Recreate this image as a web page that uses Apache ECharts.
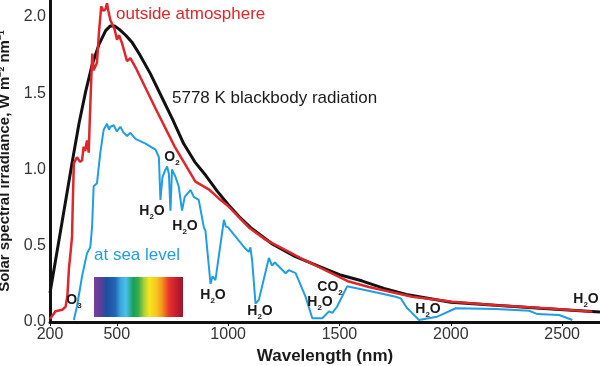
<!DOCTYPE html>
<html><head><meta charset="utf-8">
<script src="https://cdn.jsdelivr.net/npm/echarts@6/dist/echarts.min.js"></script>
<style>html,body{margin:0;padding:0;background:#fff}#c{width:600px;height:366px}</style>
</head><body><div id="c"></div>
<script>
// ---- data (wavelength nm, irradiance W m-2 nm-1) ----
const blackWl  = [200,250,300,330,360,390,420,450,470,490,510,540,570,600,650,700,750,800,850,900,950,1000,1050,1100,1200,1300,1400,1500,1600,1700,1800,2000,2200,2400,2670];
const blackVal = [0.19,0.62,1.05,1.30,1.51,1.69,1.82,1.91,1.94,1.94,1.92,1.88,1.83,1.76,1.63,1.48,1.33,1.17,1.05,0.96,0.86,0.77,0.69,0.62,0.51,0.43,0.37,0.31,0.27,0.22,0.18,0.13,0.11,0.09,0.065];

const outsideWl  = [200,225,255,270,278,285,292,299,302,307,321,335,344,351,358,366,374,378,385,390,396,404,411,420,430,440,449,456,462,471,480,490,501,510,523,546,561,584,674,760,853,913,958,1000,1093,1168,1273,1350,1422,1542,1632,1827,2007,2202,2426,2636];
const outsideVal = [0.02,0.07,0.08,0.10,0.17,0.35,0.45,0.56,0.76,1.04,1.08,1.05,1.06,1.15,1.12,1.19,1.11,1.30,1.58,1.76,1.65,1.66,1.70,1.90,2.07,2.04,2.05,2.09,2.04,1.98,1.95,1.92,1.85,1.88,1.83,1.71,1.73,1.67,1.40,1.15,0.92,0.87,0.81,0.76,0.62,0.54,0.46,0.40,0.35,0.265,0.23,0.166,0.133,0.11,0.09,0.068];

const seaWl  = [307,321,344,366,381,389,396,411,426,441,456,465,471,486,500,516,531,546,561,584,629,674,689,696,705,719,726,734,741,748,764,778,793,805,831,846,868,891,898,921,930,943,981,990,1000,1078,1093,1100,1108,1123,1138,1183,1197,1210,1258,1273,1303,1348,1378,1423,1453,1468,1489,1535,1550,1677,1752,1775,1804,1820,1857,1938,1947,2022,2202,2352,2389,2486,2546];
const seaVal = [0.013,0.10,0.30,0.45,0.49,0.625,0.89,0.91,1.11,1.26,1.30,1.26,1.28,1.29,1.25,1.28,1.24,1.22,1.24,1.20,1.17,1.13,1.08,0.80,0.95,1.00,1.02,0.97,0.73,1.00,0.95,0.89,0.73,0.82,0.865,0.82,0.80,0.62,0.60,0.25,0.30,0.275,0.67,0.625,0.62,0.48,0.46,0.49,0.40,0.12,0.145,0.42,0.37,0.39,0.32,0.34,0.32,0.165,0.025,0.025,0.07,0.06,0.10,0.235,0.23,0.19,0.166,0.155,0.09,0.068,0.013,0.035,0.04,0.09,0.085,0.074,0.052,0.046,0.013];

const xTicks = [200,500,1000,1500,2000,2500];
const yTicks = [0,0.5,1.0,1.5,2.0];

// ---- annotations ----
const gasLabels = [
  {t:'O3',  x:74,  y:300},
  {t:'O2',  x:172, y:157},
  {t:'H2O', x:152, y:211},
  {t:'H2O', x:185, y:226},
  {t:'H2O', x:213, y:295},
  {t:'H2O', x:260, y:311},
  {t:'CO2', x:330, y:287},
  {t:'H2O', x:320, y:302},
  {t:'H2O', x:428, y:309},
  {t:'H2O', x:586, y:299}
];

const zip = (a,b) => a.map((v,i)=>[v,b[i]]);
const FONT = '"Liberation Sans", Arial, sans-serif';

function richFor(t){
  return t.replace(/([A-Z]+)(\d)([A-Z]*)/, (m,a,d,c)=> '{a|'+a+'}{s|'+d+'}' + (c?'{a|'+c+'}':''));
}

const graphics = gasLabels.map(g => ({
  type:'text', x:g.x, y:g.y, z:100,
  style:{
    text: richFor(g.t), x:0, y:0, align:'center', verticalAlign:'middle',
    rich:{
      a:{fontFamily:FONT, fontWeight:'bold', fontSize:14, fill:'#1a1a1a', lineHeight:15},
      s:{fontFamily:FONT, fontWeight:'bold', fontSize:8, fill:'#1a1a1a', lineHeight:15, verticalAlign:'bottom', padding:[0,0,-2,0]}
    }
  }
}));

graphics.push(
  {type:'text', x:116, y:14, z:100, style:{text:'outside atmosphere', fill:'#e0262a', font:'17px '+FONT, verticalAlign:'middle'}},
  {type:'text', x:172, y:98, z:100, style:{text:'5778 K blackbody radiation', fill:'#1a1a1a', font:'17px '+FONT, verticalAlign:'middle'}},
  {type:'text', x:94, y:255, z:100, style:{text:'at sea level', fill:'#1f9ee3', font:'17px '+FONT, verticalAlign:'middle'}},
  {type:'rect', z:100, shape:{x:94, y:277, width:89, height:40},
   style:{fill:{type:'linear', x:0, y:0, x2:1, y2:0, colorStops:[
     {offset:0.00, color:'#7a3f98'},
     {offset:0.08, color:'#5a3f9a'},
     {offset:0.14, color:'#1d4f9e'},
     {offset:0.24, color:'#2466b4'},
     {offset:0.30, color:'#3aa8e0'},
     {offset:0.36, color:'#4cc0ea'},
     {offset:0.44, color:'#16a05c'},
     {offset:0.50, color:'#3aac4a'},
     {offset:0.56, color:'#a8cf3a'},
     {offset:0.62, color:'#f6e61c'},
     {offset:0.70, color:'#f8c51e'},
     {offset:0.76, color:'#f39a1d'},
     {offset:0.84, color:'#e8362b'},
     {offset:0.92, color:'#c81e2e'},
     {offset:1.00, color:'#9a1530'}
   ]}}}
);

const chart = echarts.init(document.getElementById('c'), null, {renderer:'canvas'});
chart.setOption({
  animation:false,
  backgroundColor:'#fff',
  grid:{left:50, right:0, top:0, bottom:44, containLabel:false, outerBoundsMode:'none'},
  xAxis:{
    type:'value', min:200, max:2670,
    name:'Wavelength (nm)', nameLocation:'middle', nameGap:25,
    nameTextStyle:{fontFamily:FONT, fontWeight:'bold', fontSize:17, color:'#1a1a1a'},
    axisLine:{onZero:false, lineStyle:{color:'#111', width:3}},
    axisTick:{show:true, length:4, customValues:xTicks, lineStyle:{color:'#111', width:1}},
    axisLabel:{customValues:xTicks, formatter:v=>String(v), fontFamily:FONT, fontSize:16, color:'#333', margin:5},
    splitLine:{show:false}
  },
  yAxis:{
    type:'value', min:0, max:2.111,
    name:'Solar spectral irradiance, W m\u207B\u00B2 nm\u207B\u00B9', nameLocation:'middle', nameGap:22,
    nameTextStyle:{fontFamily:FONT, fontWeight:'bold', fontSize:15, color:'#1a1a1a'},
    axisLine:{show:true, onZero:false, lineStyle:{color:'#111', width:3}},
    axisTick:{show:false},
    axisLabel:{customValues:yTicks, formatter:v=>v.toFixed(1), fontFamily:FONT, fontSize:16, color:'#333', margin:4},
    splitLine:{show:false}
  },
  series:[
    {name:'blackbody', type:'line', data:zip(blackWl,blackVal), showSymbol:false, z:2,
     lineStyle:{color:'#111', width:3}},
    {name:'outside', type:'line', data:zip(outsideWl,outsideVal), showSymbol:false, z:3,
     lineStyle:{color:'#e0262a', width:2.5}},
    {name:'sea', type:'line', data:zip(seaWl,seaVal), showSymbol:false, z:4,
     lineStyle:{color:'#1f9ee3', width:2}}
  ],
  graphic:graphics
});
</script>
</body></html>
